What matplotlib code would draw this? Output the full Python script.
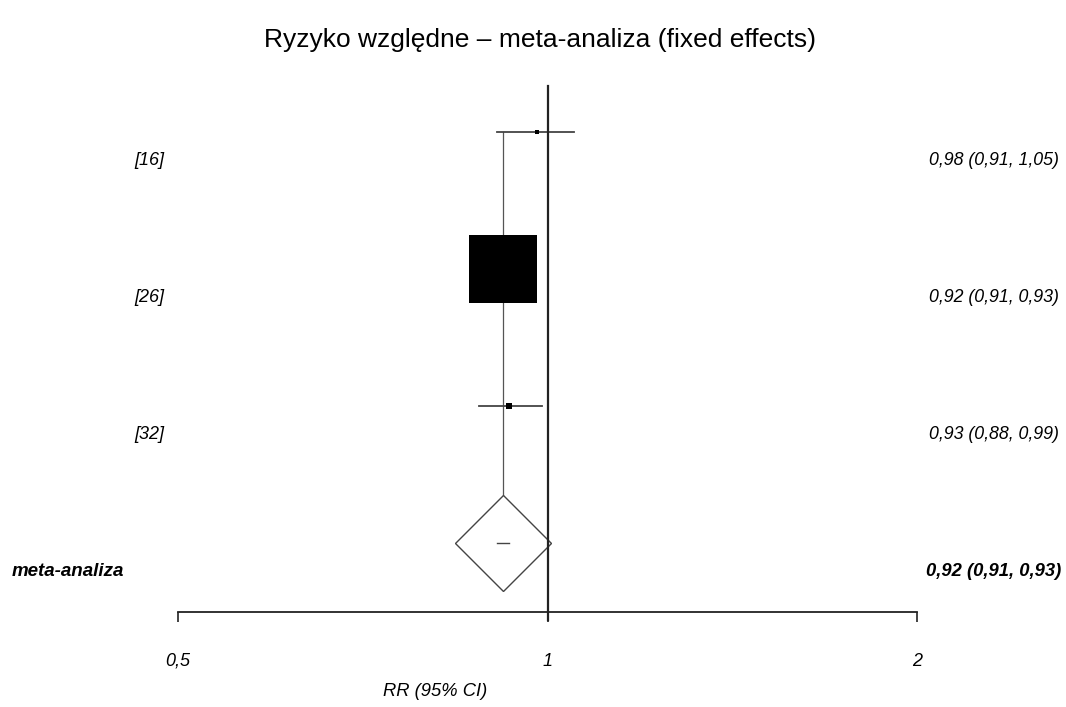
import matplotlib
matplotlib.use("Agg")
import matplotlib.pyplot as plt
import matplotlib.transforms as mtransforms
import numpy as np

plt.rcParams['font.family'] = ['Liberation Sans', 'DejaVu Sans']

# ---- data ----
studies = ["[16]", "[26]", "[32]"]
rr = [0.98, 0.92, 0.93]
ci_low = [0.91, 0.91, 0.88]
ci_high = [1.05, 0.93, 0.99]
weights = [0.5, 98.5, 1.0]          # percent weight (box area)
pooled_label = "meta-analiza"
pooled_rr = 0.92
pooled_low = 0.91
pooled_high = 0.93
tick_vals = [0.5, 1, 2]
tick_labels = ["0,5", "1", "2"]
title = "Ryzyko względne – meta-analiza (fixed effects)"
xlabel = "RR (95% CI)"

def fmt(v):
    return f"{v:.2f}".replace(".", ",")

W, H = 1066, 707
fig = plt.figure(figsize=(W / 100, H / 100), dpi=100)
ax_left, ax_right = 178, 917
ax_top, ax_bot = 86, 612
ax = fig.add_axes([ax_left / W, 1 - ax_bot / H, (ax_right - ax_left) / W, (ax_bot - ax_top) / H])
ax.set_xscale('log')
ax.set_xlim(0.5, 2)
ax.set_ylim(3.504, -0.336)

for s in ['top', 'left', 'right']:
    ax.spines[s].set_visible(False)
ax.spines['bottom'].set_linewidth(1.3)
ax.spines['bottom'].set_color('#222222')
ax.set_yticks([])
ax.xaxis.set_minor_locator(matplotlib.ticker.NullLocator())
ax.set_xticks(tick_vals)
ax.set_xticklabels(tick_labels, fontsize=13, style='italic')
ax.tick_params(axis='x', direction='out', length=7.5, width=1.2, color='#222222', pad=22)

n = len(studies)
rows = np.arange(n)
pooled_row = n

# pooled estimate vertical line
ax.plot([pooled_rr, pooled_rr], [0, pooled_row], color='#555555', lw=0.9, zorder=1)

# study CIs and boxes
px_per_sqrtw = 6.95
for i in range(n):
    ax.plot([ci_low[i], ci_high[i]], [rows[i], rows[i]], color='#444444', lw=1.3, zorder=2)
    side_pt = px_per_sqrtw * np.sqrt(weights[i]) * 72 / 100
    ax.plot([rr[i]], [rows[i]], marker='s', ms=side_pt, color='black', mew=0, zorder=3)

# pooled diamond
side_pt = px_per_sqrtw * np.sqrt(100) * 72 / 100 * 0.97
ax.plot([pooled_rr], [pooled_row], marker='D', ms=side_pt, mfc='white', mec='#444444', mew=1.0, zorder=4)
ax.plot([pooled_low, pooled_high], [pooled_row, pooled_row], color='#444444', lw=1.0, zorder=5)

# reference line at RR = 1
ax.axvline(1.0, ymin=-0.015, ymax=1.0, color='#222222', lw=1.6, zorder=6, clip_on=False)

# text labels
tr = mtransforms.blended_transform_factory(fig.transFigure, ax.transData)
off = 0.205
for i in range(n):
    ax.text(164 / W, rows[i] + off, studies[i], transform=tr, ha='right', va='center',
            fontsize=13, style='italic')
    ax.text(1059 / W, rows[i] + off, f"{fmt(rr[i])} ({fmt(ci_low[i])}, {fmt(ci_high[i])})",
            transform=tr, ha='right', va='center', fontsize=12.8, style='italic')
ax.text(124 / W, pooled_row + off, pooled_label, transform=tr, ha='right', va='center',
        fontsize=13.5, style='italic', weight='bold')
ax.text(1061 / W, pooled_row + off, f"{fmt(pooled_rr)} ({fmt(pooled_low)}, {fmt(pooled_high)})",
        transform=tr, ha='right', va='center', fontsize=13.2, style='italic', weight='bold')

fig.text(540 / W, 1 - 40 / H, title, ha='center', va='center', fontsize=19)
fig.text(435 / W, 1 - 692 / H, xlabel, ha='center', va='center', fontsize=13.2, style='italic')

fig.savefig("out.png", dpi=100)
